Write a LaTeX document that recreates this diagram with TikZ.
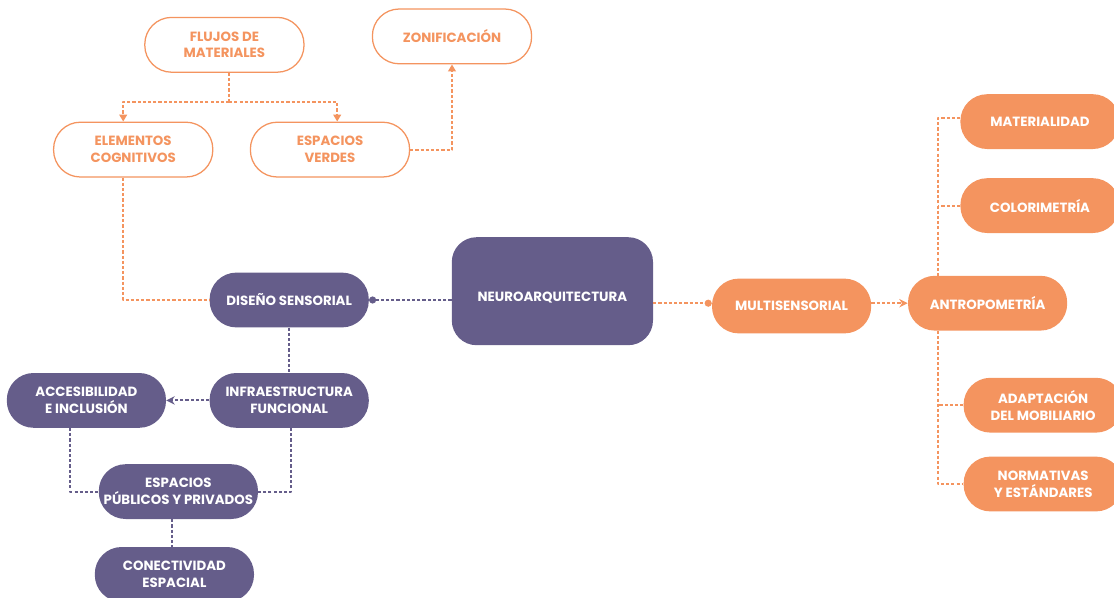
\documentclass[tikz,border=0pt]{standalone}
\usepackage{fontspec}
\setmainfont{Poppins}
\usetikzlibrary{arrows.meta}
\definecolor{lila}{HTML}{655D8A}
\definecolor{naranja}{HTML}{F4945F}

\begin{document}
\begin{tikzpicture}[line cap=round, line join=round,
  caja/.style={rounded corners=0.67cm, minimum width=3.98cm, minimum height=1.37cm,
    align=center, inner sep=2pt, font=\fontsize{9.5}{12}\selectfont\bfseries},
  hueco/.style={caja, draw=naranja, line width=0.9pt, fill=white, text=naranja},
  morado/.style={caja, fill=lila, text=white},
  salmon/.style={caja, fill=naranja, text=white},
  ldash/.style={draw=lila, line width=1.3pt, line cap=butt, dash pattern=on 2.2pt off 1.5pt},
  odash/.style={draw=naranja, line width=1.3pt, line cap=butt, dash pattern=on 2.2pt off 1.5pt}]

% Frame
\useasboundingbox (0,0) rectangle (27.85,-14.95);

% Center
\node[morado, minimum width=5.03cm, minimum height=2.7cm, rounded corners=0.62cm,
  text height=15pt, text depth=1pt] (neu) at (13.81,-7.28) {NEUROARQUITECTURA};

% Left branch
\node[morado] (dis) at (7.23,-7.5) {DISEÑO SENSORIAL};
\node[morado] (inf) at (7.23,-10.01) {INFRAESTRUCTURA\\FUNCIONAL};
\node[morado] (acc) at (2.16,-10.01) {ACCESIBILIDAD\\E INCLUSIÓN};
\node[morado] (pub) at (4.46,-12.29) {ESPACIOS\\PÚBLICOS Y PRIVADOS};
\node[morado] (con) at (4.36,-14.36) {CONECTIVIDAD\\ESPACIAL};

% Upper branch
\node[hueco] (flu) at (5.61,-1.12) {FLUJOS DE\\MATERIALES};
\node[hueco] (zon) at (11.30,-0.91) {ZONIFICACIÓN};
\node[hueco] (ele) at (3.33,-3.74) {ELEMENTOS\\COGNITIVOS};
\node[hueco] (ver) at (8.25,-3.74) {ESPACIOS\\VERDES};

% Right branch
\node[salmon] (mul) at (19.79,-7.65) {MULTISENSORIAL};
\node[salmon] (ant) at (24.69,-7.58) {ANTROPOMETRÍA};
\node[salmon] (mat) at (26.0,-3.04) {MATERIALIDAD};
\node[salmon] (col) at (26.0,-5.14) {COLORIMETRÍA};
\node[salmon] (ada) at (26.08,-10.13) {ADAPTACIÓN\\DEL MOBILIARIO};
\node[salmon] (nor) at (26.08,-12.1) {NORMATIVAS\\Y ESTÁNDARES};

% Points
\coordinate (fj) at (5.73,-2.55);
\coordinate (tr) at (23.45,-7.58);

% Segments
\draw[odash] ([xshift=0.12cm]flu.south) -- (fj);
\draw[odash, -{Triangle[length=5pt,width=5.5pt]}] (fj) -| ([xshift=-0.25cm]ele.north);
\draw[odash, -{Triangle[length=5pt,width=5.5pt]}] (fj) -| ([xshift=0.18cm]ver.north);
\draw[odash, -{Triangle[length=5pt,width=5.5pt]}] (ver.east) -| (zon.south);
\draw[odash] ([xshift=-0.25cm]ele.south) |- (dis.west);

\draw[ldash, -{Circle[length=5pt]}] (neu.west |- dis.east) -- (dis.east);
\draw[ldash] (dis.south) -- (inf.north);
\draw[ldash, -{Stealth[length=6pt,width=6pt]}] (inf.west) -- (acc.east);
\draw[ldash] ([xshift=-0.4cm]acc.south) |- (pub.west);
\draw[ldash] ([xshift=0.05cm]inf.south) |- (pub.east);
\draw[ldash] ([xshift=-0.15cm]pub.south) -- ([xshift=-0.15cm]pub.south |- con.north);

\draw[odash, -{Circle[length=5pt]}] (neu.east |- 0,-7.58) -- (mul.west |- 0,-7.58);
\draw[odash, -{Stealth[length=6pt,width=6pt]}] (mul.east |- 0,-7.58) -- (ant.west);
\draw[odash] ([yshift=0.08cm]mat.west) -| (tr |- ant.north);
\draw[odash] (tr |- ant.south) |- (nor.west);
\draw[odash] (col.west) -- (tr |- col.west);
\draw[odash] (ada.west) -- (tr |- ada.west);

\end{tikzpicture}
\end{document}
